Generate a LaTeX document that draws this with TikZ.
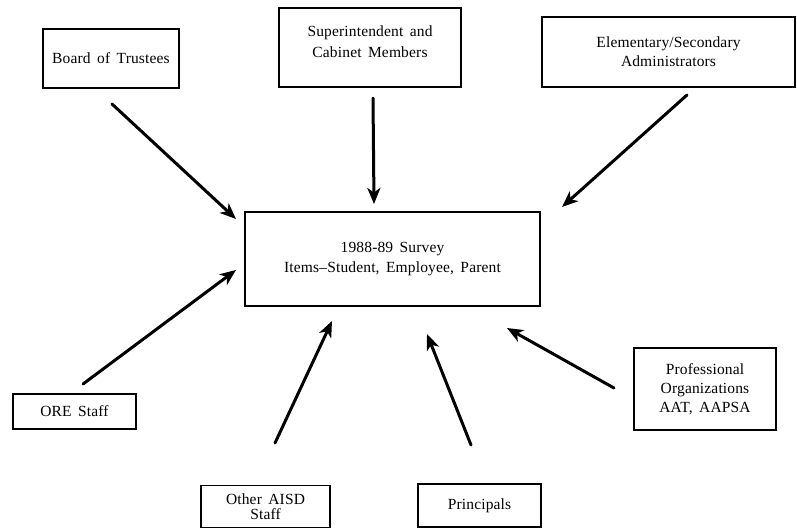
\documentclass[tikz,border=0pt]{standalone}
\usepackage{fontspec}
\setmainfont{Liberation Serif}[LetterSpace=1,WordSpace=1.6]
\usetikzlibrary{arrows.meta}
\begin{document}
\begin{tikzpicture}[x=1pt,y=-1pt,
  box/.style={draw, line width=1.5pt, inner sep=0pt, align=center,
    font=\fontsize{15.5}{19}\selectfont},
  txt/.style={inner sep=0pt, align=center, font=\fontsize{15.5}{21}\selectfont},
  arr/.style={line width=3pt, line cap=round, -{Stealth[length=16pt,width=13pt,inset=4.5pt]}}]
\useasboundingbox (0,0) rectangle (797,528);
\fill[white] (0,0) rectangle (797,528);

\node[box, minimum width=136pt, minimum height=59pt] (board) at (111,58.5) {Board of Trustees};
\node[box, minimum width=182pt, minimum height=79pt] (supt) at (370,47.5) {};
\node[txt] (supttext) at (370,42) {Superintendent and\\Cabinet Members};
\node[box, minimum width=253pt, minimum height=70pt] (elem) at (668.5,52) {Elementary/Secondary\\Administrators};
\node[box, minimum width=295pt, minimum height=94pt, font=\fontsize{15.5}{20}\selectfont] (center) at (392.5,259) {1988-89 Survey\\Items--Student, Employee, Parent};
\node[box, minimum width=123pt, minimum height=35pt] (ore) at (74.5,411.5) {ORE Staff};
\node[box, minimum width=129pt, minimum height=42pt, font=\fontsize{15.5}{15}\selectfont] (aisd) at (265.5,506.5) {Other AISD\\Staff};
\node[box, minimum width=123pt, minimum height=43pt] (princ) at (479.5,505.5) {Principals};
\node[box, minimum width=142pt, minimum height=82pt] (prof) at (705,389) {Professional\\Organizations\\AAT, AAPSA};

\coordinate (s1) at (112,104);  \coordinate (e1) at (236,219);
\coordinate (s2) at (373,98);   \coordinate (e2) at (374,204);
\coordinate (s3) at (687,95);   \coordinate (e3) at (562,207);
\coordinate (s4) at (83,384);   \coordinate (e4) at (236,270);
\coordinate (s5) at (275,443);  \coordinate (e5) at (332,321);
\coordinate (s6) at (471,445);  \coordinate (e6) at (427,334);
\coordinate (s7) at (614,388);  \coordinate (e7) at (507,328);

\draw[arr] (s1) -- (e1);
\draw[arr] (s2) -- (e2);
\draw[arr] (s3) -- (e3);
\draw[arr] (s4) -- (e4);
\draw[arr] (s5) -- (e5);
\draw[arr] (s6) -- (e6);
\draw[arr] (s7) -- (e7);
\end{tikzpicture}
\end{document}
